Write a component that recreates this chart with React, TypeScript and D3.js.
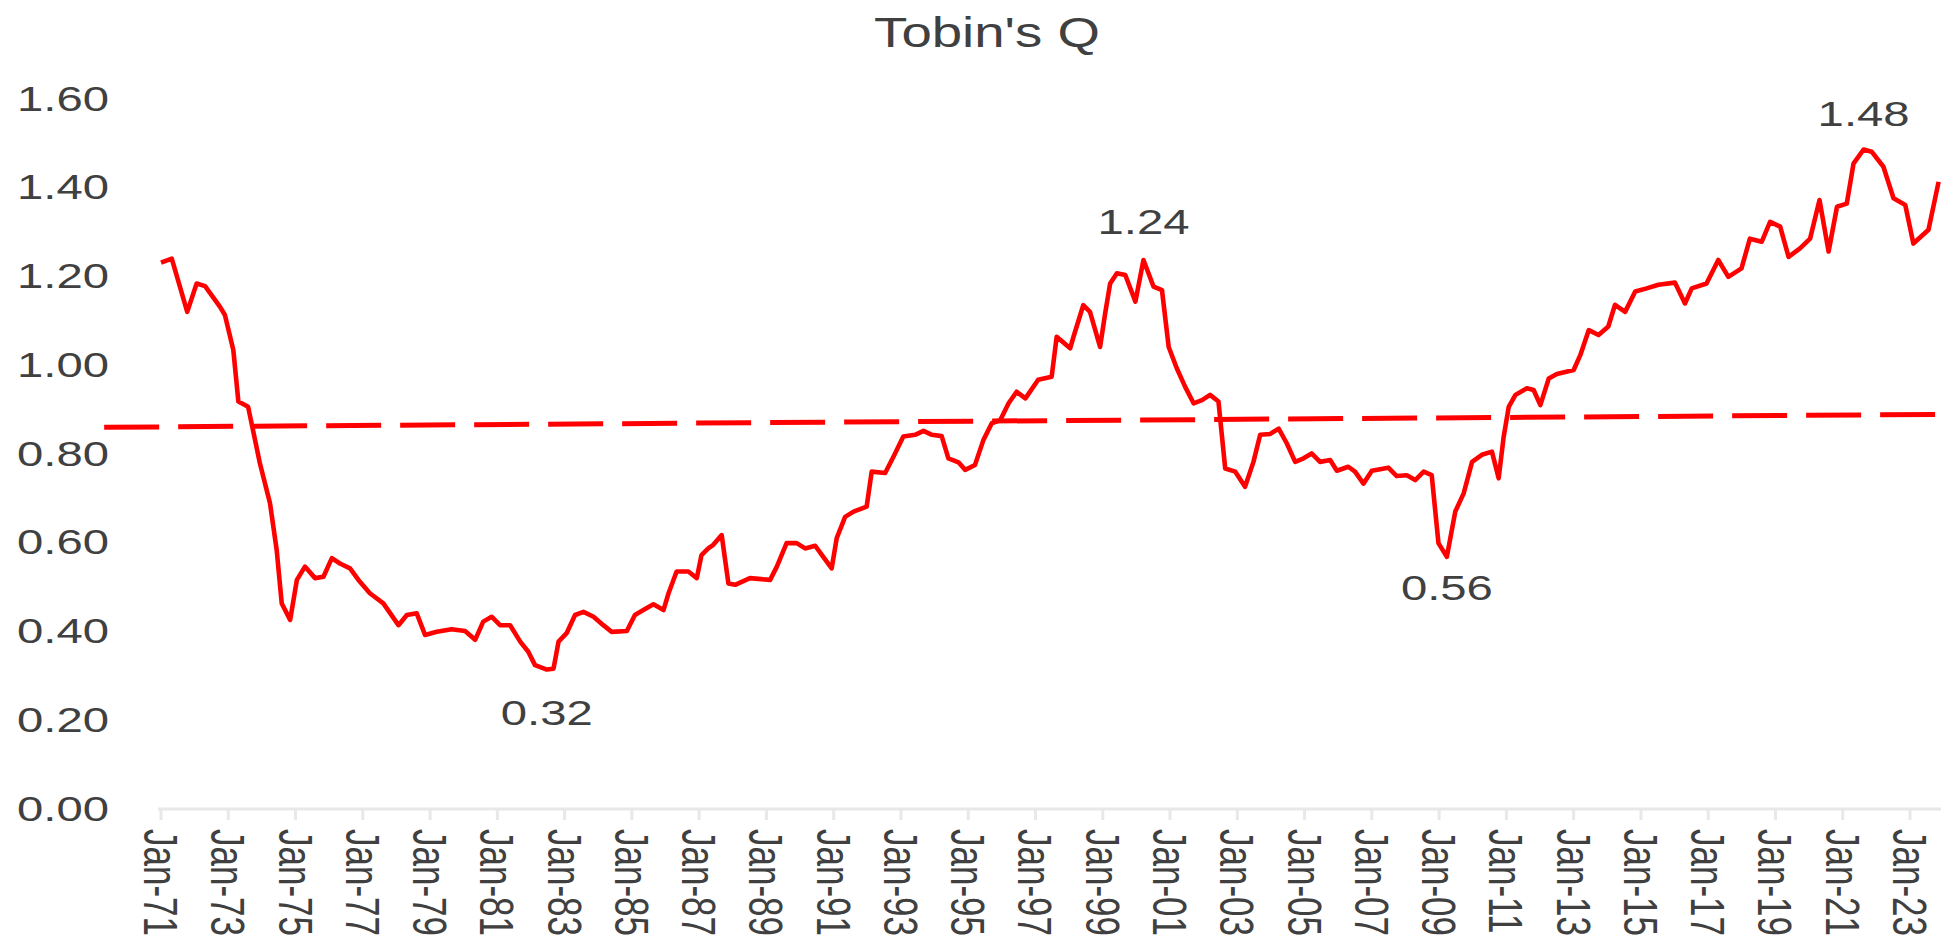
import React, { useEffect, useRef } from "react";
import * as d3 from "d3";

// Tobin's Q (decimal year, ratio)
const years = [
  1971.0, 1971.32, 1971.78, 1972.06, 1972.31, 1972.75, 1972.9, 1973.15, 1973.3, 1973.59,
  1973.94, 1974.24, 1974.44, 1974.59, 1974.84, 1975.04, 1975.28, 1975.58, 1975.83, 1976.08,
  1976.32, 1976.62, 1976.87, 1977.21, 1977.61, 1978.06, 1978.31, 1978.6, 1978.85, 1979.2,
  1979.64, 1980.04, 1980.34, 1980.58, 1980.83, 1981.08, 1981.38, 1981.68, 1981.92, 1982.12,
  1982.47, 1982.67, 1982.82, 1983.06, 1983.31, 1983.56, 1983.86, 1984.15, 1984.4, 1984.85,
  1985.09, 1985.34, 1985.64, 1985.94, 1986.09, 1986.33, 1986.68, 1986.93, 1987.07, 1987.27,
  1987.42, 1987.67, 1987.87, 1988.07, 1988.51, 1989.11, 1989.31, 1989.6, 1989.9, 1990.15,
  1990.45, 1990.69, 1990.94, 1991.09, 1991.34, 1991.59, 1991.98, 1992.13, 1992.53, 1992.78,
  1993.07, 1993.42, 1993.67, 1993.92, 1994.21, 1994.41, 1994.71, 1994.91, 1995.2, 1995.45,
  1995.7, 1995.95, 1996.2, 1996.44, 1996.7, 1997.08, 1997.48, 1997.63, 1998.03, 1998.13,
  1998.42, 1998.62, 1998.92, 1999.07, 1999.22, 1999.42, 1999.67, 1999.97, 2000.21, 2000.51,
  2000.76, 2000.96, 2001.2, 2001.45, 2001.7, 2001.95, 2002.19, 2002.44, 2002.64, 2002.94,
  2003.23, 2003.48, 2003.68, 2003.98, 2004.23, 2004.47, 2004.72, 2004.97, 2005.21, 2005.46,
  2005.76, 2005.96, 2006.3, 2006.5, 2006.75, 2007.0, 2007.49, 2007.74, 2008.04, 2008.29,
  2008.54, 2008.78, 2008.98, 2009.23, 2009.48, 2009.73, 2009.98, 2010.27, 2010.57, 2010.77,
  2010.92, 2011.07, 2011.27, 2011.61, 2011.81, 2012.01, 2012.26, 2012.5, 2013.0, 2013.2,
  2013.45, 2013.74, 2014.03, 2014.23, 2014.53, 2014.83, 2015.17, 2015.52, 2016.01, 2016.31,
  2016.51, 2016.95, 2017.3, 2017.6, 2017.99, 2018.24, 2018.59, 2018.84, 2019.14, 2019.39,
  2019.73, 2020.03, 2020.31, 2020.58, 2020.83, 2021.12, 2021.32, 2021.62, 2021.86, 2022.21,
  2022.51, 2022.86, 2023.1, 2023.55, 2023.85,
];

const qValues = [
  1.229, 1.238, 1.118, 1.182, 1.176, 1.13, 1.111, 1.032, 0.916, 0.904,
  0.777, 0.687, 0.581, 0.461, 0.424, 0.514, 0.544, 0.518, 0.521, 0.563,
  0.551, 0.54, 0.514, 0.484, 0.461, 0.412, 0.435, 0.439, 0.39, 0.397,
  0.403, 0.399, 0.379, 0.42, 0.431, 0.412, 0.412, 0.375, 0.352, 0.322,
  0.312, 0.314, 0.375, 0.394, 0.435, 0.442, 0.431, 0.412, 0.397, 0.399,
  0.435, 0.446, 0.459, 0.446, 0.484, 0.533, 0.533, 0.518, 0.57, 0.585,
  0.593, 0.615, 0.506, 0.503, 0.518, 0.514, 0.544, 0.597, 0.597, 0.585,
  0.591, 0.566, 0.54, 0.608, 0.656, 0.668, 0.679, 0.758, 0.755, 0.792,
  0.837, 0.841, 0.85, 0.841, 0.838, 0.788, 0.779, 0.762, 0.773, 0.829,
  0.867, 0.874, 0.912, 0.938, 0.923, 0.965, 0.972, 1.062, 1.036, 1.062,
  1.133, 1.118, 1.039, 1.114, 1.182, 1.205, 1.201, 1.141, 1.235, 1.175,
  1.167, 1.039, 0.991, 0.949, 0.912, 0.919, 0.931, 0.916, 0.765, 0.758,
  0.724, 0.78, 0.841, 0.843, 0.855, 0.822, 0.78, 0.788, 0.799, 0.78,
  0.784, 0.76, 0.769, 0.758, 0.731, 0.76, 0.767, 0.748, 0.75, 0.739,
  0.758, 0.75, 0.597, 0.566, 0.668, 0.709, 0.78, 0.796, 0.803, 0.743,
  0.837, 0.904, 0.931, 0.946, 0.942, 0.908, 0.968, 0.978, 0.987, 1.021,
  1.077, 1.066, 1.085, 1.134, 1.118, 1.164, 1.171, 1.179, 1.184, 1.137,
  1.171, 1.182, 1.235, 1.197, 1.216, 1.283, 1.276, 1.321, 1.31, 1.242,
  1.261, 1.283, 1.37, 1.254, 1.355, 1.362, 1.452, 1.484, 1.479, 1.445,
  1.374, 1.359, 1.272, 1.303, 1.411,
];

// long-run reference line (dashed)
const trendYears = [1969.31, 2024.0];
const trendValues = [0.858, 0.887];

const yTicks = [0, 0.2, 0.4, 0.6, 0.8, 1.0, 1.2, 1.4, 1.6];
const xTickYears = d3.range(1971, 2024, 2);

const peakLabels = [
  { year: 1982.47, value: 0.312, text: "0.32", side: "below" },
  { year: 2000.21, value: 1.235, text: "1.24", side: "above" },
  { year: 2009.23, value: 0.566, text: "0.56", side: "below" },
  { year: 2021.62, value: 1.484, text: "1.48", side: "above" },
];

const W = 1941;
const H = 940;
const FONT = "'Liberation Sans', Arial, Helvetica, sans-serif";
const TEXT = "#404040";
const RED = "#ff0000";
const STRETCH = 1.35; // the reference is horizontally stretched

function TobinChart() {
  const ref = useRef<SVGSVGElement>(null);

  useEffect(() => {
    const svg = d3.select(ref.current);
    svg.selectAll("*").remove();

    const x = d3.scaleLinear().domain([1971, 2023]).range([161, 1910]);
    const y = d3.scaleLinear().domain([0, 1.6]).range([808, 98]);

    // title
    svg
      .append("text")
      .attr("transform", `translate(987,47) scale(1.3,1)`)
      .attr("text-anchor", "middle")
      .style("font-family", FONT)
      .style("font-size", "42px")
      .style("fill", TEXT)
      .text("Tobin's Q");

    // y labels (no gridlines)
    svg
      .append("g")
      .selectAll("text")
      .data(yTicks)
      .enter()
      .append("text")
      .attr("transform", (d) => `translate(109,${y(d)}) scale(${STRETCH},1)`)
      .attr("dy", "0.36em")
      .attr("text-anchor", "end")
      .style("font-family", FONT)
      .style("font-size", "35px")
      .style("fill", TEXT)
      .text((d) => d.toFixed(2));

    // x axis
    const axisY = y(0) + 1;
    const xAxisG = svg.append("g");
    xAxisG
      .append("line")
      .attr("x1", x(1971) - 3)
      .attr("x2", W)
      .attr("y1", axisY)
      .attr("y2", axisY)
      .attr("stroke", "#e8e8e8")
      .attr("stroke-width", 3);
    xAxisG
      .selectAll("line.tick")
      .data(xTickYears)
      .enter()
      .append("line")
      .attr("class", "tick")
      .attr("x1", (d) => x(d))
      .attr("x2", (d) => x(d))
      .attr("y1", axisY)
      .attr("y2", axisY + 11)
      .attr("stroke", "#e8e8e8")
      .attr("stroke-width", 3);
    xAxisG
      .selectAll("text")
      .data(xTickYears)
      .enter()
      .append("text")
      .attr("transform", (d) => `translate(${x(d)},829) scale(${STRETCH},1) rotate(90)`)
      .attr("dy", "0.36em")
      .attr("text-anchor", "start")
      .style("font-family", FONT)
      .style("font-size", "35px")
      .style("fill", TEXT)
      .text((d) => "Jan-" + String(d % 100).padStart(2, "0"));

    // dashed reference line
    const trendLine = d3
      .line<number>()
      .x((d, i) => x(trendYears[i]))
      .y((d) => y(d));
    svg
      .append("path")
      .attr("d", trendLine(trendValues))
      .attr("fill", "none")
      .attr("stroke", RED)
      .attr("stroke-width", 5)
      .attr("stroke-dasharray", "55 19");

    // Tobin's Q series
    const line = d3
      .line<number>()
      .x((d, i) => x(years[i]))
      .y((d) => y(d));
    svg
      .append("path")
      .attr("d", line(qValues))
      .attr("fill", "none")
      .attr("stroke", RED)
      .attr("stroke-width", 4.6)
      .attr("stroke-linejoin", "round");

    // peak / trough labels
    const offsets: Record<string, number> = { "0.32": 43, "1.24": -39, "0.56": 31, "1.48": -36 };
    svg
      .append("g")
      .selectAll("text")
      .data(peakLabels)
      .enter()
      .append("text")
      .attr(
        "transform",
        (d) => `translate(${x(d.year)},${y(d.value) + offsets[d.text]}) scale(${STRETCH},1)`
      )
      .attr("dy", "0.36em")
      .attr("text-anchor", "middle")
      .style("font-family", FONT)
      .style("font-size", "35px")
      .style("fill", TEXT)
      .text((d) => d.text);
  }, []);

  return <svg ref={ref} width={W} height={H} style={{ display: "block", background: "#fff" }} />;
}

export default function App() {
  return (
    <div style={{ position: "absolute", left: 0, top: 0, width: W, height: H, overflow: "hidden", background: "#fff" }}>
      <TobinChart />
    </div>
  );
}
